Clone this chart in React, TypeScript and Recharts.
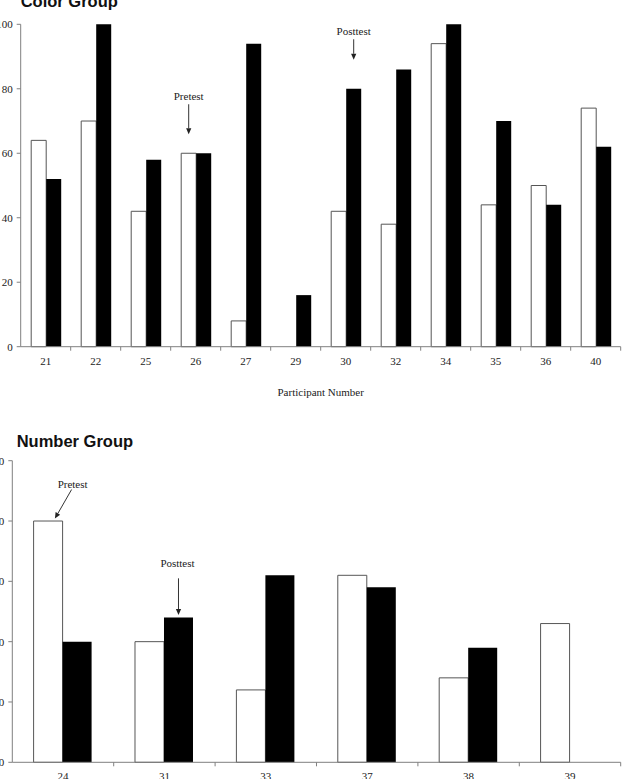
import { Bar, BarChart, LabelList, XAxis, YAxis } from 'recharts';

const colorParticipants = ['21', '22', '25', '26', '27', '29', '30', '32', '34', '35', '36', '40'];
const colorPretest = [64, 70, 42, 60, 8, 0, 42, 38, 94, 44, 50, 74];
const colorPosttest = [52, 100, 58, 60, 94, 16, 80, 86, 100, 70, 44, 62];
const colorPreNote = { participant: '26', text: 'Pretest' };
const colorPostNote = { participant: '30', text: 'Posttest' };

const numberParticipants = ['24', '31', '33', '37', '38', '39'];
const numberPretest = [80, 40, 24, 62, 28, 46];
const numberPosttest = [40, 48, 62, 58, 38, 0];
const numberPreNote = { participant: '24', text: 'Pretest' };
const numberPostNote = { participant: '31', text: 'Posttest' };

const yTicks = [0, 20, 40, 60, 80, 100];

const SERIF = "'Liberation Serif', 'Times New Roman', serif";
const SANS = "'Liberation Sans', Arial, sans-serif";
const AXIS = '#808080';
const INK = '#222';

type NoteNote = { participant: string; text: string };
// arrow geometry relative to the top centre of the annotated bar
type NoteShape = { tx: number; ty: number; x1: number; y1: number; x2: number; y2: number };

function buildRows(names: string[], pre: number[], post: number[], preNote: NoteNote, postNote: NoteNote) {
  return names.map((name, i) => ({
    name,
    pretest: pre[i],
    posttest: post[i],
    preNote: name === preNote.participant ? preNote.text : undefined,
    postNote: name === postNote.participant ? postNote.text : undefined,
  }));
}

function renderNote(p: any, shape: NoteShape) {
  if (!p.value) return <g />;
  const cx = Number(p.x) + Number(p.width) / 2;
  const top = Number(p.y);
  const x1 = cx + shape.x1;
  const y1 = top + shape.y1;
  const x2 = cx + shape.x2;
  const y2 = top + shape.y2;
  const len = Math.hypot(x2 - x1, y2 - y1);
  const ux = (x2 - x1) / len;
  const uy = (y2 - y1) / len;
  const hl = 6;
  const hw = 2.6;
  const bx = x2 - ux * hl;
  const by = y2 - uy * hl;
  const head = `M${x2},${y2} L${bx - uy * hw},${by + ux * hw} L${bx + uy * hw},${by - ux * hw} Z`;
  return (
    <g>
      <text x={cx + shape.tx} y={top + shape.ty} textAnchor="middle" fontSize={11} fontFamily={SERIF} fill={INK}>
        {p.value}
      </text>
      <line x1={x1} y1={y1} x2={bx} y2={by} stroke="#333" strokeWidth={1} />
      <path d={head} fill="#222" />
    </g>
  );
}

function ParticipantTick(props: any) {
  const { x, y, payload, half } = props;
  return (
    <g>
      <line x1={x + half} y1={y} x2={x + half} y2={y + 4} stroke={AXIS} />
      <text x={x} y={y + 18} textAnchor="middle" fontSize={11} fontFamily={SERIF} fill={INK}>
        {payload.value}
      </text>
    </g>
  );
}

interface GroupChartProps {
  rows: ReturnType<typeof buildRows>;
  width: number;
  height: number;
  margin: { top: number; right: number; bottom: number; left: number };
  axisWidth: number;
  axisHeight: number;
  preShape: NoteShape;
  postShape: NoteShape;
  axisTitle?: string;
}

function GroupChart({ rows, width, height, margin, axisWidth, axisHeight, preShape, postShape, axisTitle }: GroupChartProps) {
  const plotWidth = width - margin.left - margin.right - axisWidth;
  const half = plotWidth / rows.length / 2;
  return (
    <BarChart width={width} height={height} data={rows} margin={margin} barCategoryGap="21%" barGap={0}>
      <XAxis
        dataKey="name"
        height={axisHeight}
        axisLine={{ stroke: AXIS }}
        tickLine={false}
        tickSize={0}
        tickMargin={0}
        interval={0}
        tick={(p: any) => <ParticipantTick {...p} half={half} />}
        label={
          axisTitle
            ? { value: axisTitle, position: 'insideBottom', offset: 1, fontSize: 11, fontFamily: SERIF, fill: INK }
            : undefined
        }
      />
      <YAxis
        width={axisWidth}
        domain={[0, 100]}
        ticks={yTicks}
        interval={0}
        axisLine={{ stroke: AXIS }}
        tickLine={{ stroke: AXIS }}
        tickSize={4}
        tickMargin={4}
        tick={{ fontSize: 11, fontFamily: SERIF, fill: INK }}
      />
      <Bar dataKey="pretest" fill="#fff" stroke="#555" strokeWidth={1} isAnimationActive={false}>
        <LabelList dataKey="preNote" content={(p: any) => renderNote(p, preShape)} />
      </Bar>
      <Bar dataKey="posttest" fill="#000" isAnimationActive={false}>
        <LabelList dataKey="postNote" content={(p: any) => renderNote(p, postShape)} />
      </Bar>
    </BarChart>
  );
}

export default function App() {
  const colorRows = buildRows(colorParticipants, colorPretest, colorPosttest, colorPreNote, colorPostNote);
  const numberRows = buildRows(numberParticipants, numberPretest, numberPosttest, numberPreNote, numberPostNote);
  return (
    <div
      style={{
        position: 'absolute',
        left: 0,
        top: 0,
        width: 630,
        height: 779,
        overflow: 'hidden',
        background: '#fff',
      }}
    >
      <div style={{ position: 'absolute', left: 0, top: 0 }}>
        <GroupChart
          rows={colorRows}
          width={630}
          height={400}
          margin={{ top: 24.3, right: 9.3, bottom: 3.3, left: 0 }}
          axisWidth={20.7}
          axisHeight={50}
          preShape={{ tx: 0, ty: -53, x1: 0, y1: -49, x2: 0, y2: -19 }}
          postShape={{ tx: 0, ty: -54, x1: 0, y1: -49.5, x2: 0, y2: -29 }}
          axisTitle="Participant Number"
        />
      </div>
      <div style={{ position: 'absolute', left: -8, top: 400 }}>
        <GroupChart
          rows={numberRows}
          width={638}
          height={402.3}
          margin={{ top: 60.7, right: 9.3, bottom: 0, left: 0 }}
          axisWidth={20.3}
          axisHeight={40}
          preShape={{ tx: 24.5, ty: -33.5, x1: 23.5, y1: -31.5, x2: 6.8, y2: -2.4 }}
          postShape={{ tx: -1, ty: -50.5, x1: 0, y1: -39.2, x2: 0, y2: -2.5 }}
        />
      </div>
      <svg width={630} height={779} style={{ position: 'absolute', left: 0, top: 0, pointerEvents: 'none' }}>
        <text x={20.7} y={6.7} fontSize={16.5} fontWeight="bold" fontFamily={SANS} fill="#111">
          Color Group
        </text>
        <text x={16.7} y={446.7} fontSize={16.5} fontWeight="bold" fontFamily={SANS} fill="#111">
          Number Group
        </text>
      </svg>
    </div>
  );
}
